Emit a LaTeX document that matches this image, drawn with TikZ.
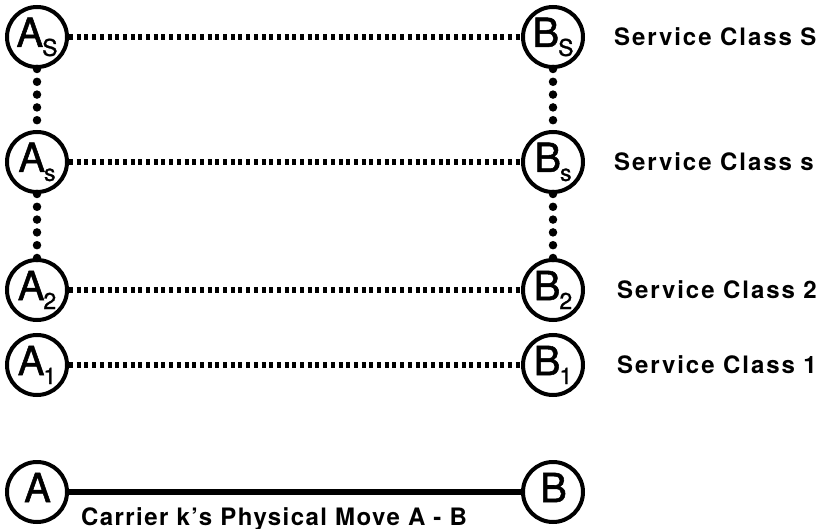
\documentclass[tikz,border=0pt]{standalone}
\usepackage{fontspec}
\setmainfont{TeX Gyre Heros}
\newfontfamily\lblfont[LetterSpace=8]{TeX Gyre Heros Bold}
\newfontfamily\capfont[LetterSpace=6]{TeX Gyre Heros Bold}
\newfontfamily\ndfont[FakeBold=1.3]{TeX Gyre Heros}
% letter with a lowered index, as set inside the station circles
\newcommand{\stn}[2]{{\ndfont\fontsize{40}{40}\selectfont #1\kern-1pt\raisebox{-9pt}{\fontsize{23}{23}\selectfont #2}}}
\begin{document}
\begin{tikzpicture}[x=1pt,y=-1pt,
  station/.style={circle, draw, line width=4pt, minimum size=60pt, inner sep=0pt, fill=white},
  hop/.style={line width=6pt, dash pattern=on 4pt off 3.7pt},
  climb/.style={line width=8.5pt, line cap=round, dash pattern=on 0pt off 12.8pt},
  move/.style={line width=5.5pt},
  classlbl/.style={anchor=west, inner sep=0pt, font=\lblfont\fontsize{24}{24}\selectfont}]
\useasboundingbox (0,0) rectangle (824,529);

\node[station] (aS) at (37,37)  {\stn{A}{S}};
\node[station] (as) at (37,162) {\stn{A}{s}};
\node[station] (a2) at (37,290) {\stn{A}{2}};
\node[station] (a1) at (37,365) {\stn{A}{1}};
\node[station] (a0) at (37,492) {\stn{A}{}};

\node[station] (bS) at (553,37)  {\stn{B}{S}};
\node[station] (bs) at (553,162) {\stn{B}{s}};
\node[station] (b2) at (553,290) {\stn{B}{2}};
\node[station] (b1) at (553,365) {\stn{B}{1}};
\node[station] (b0) at (553,492) {\stn{B}{}};

% vertical links between service classes
\draw[climb] (aS.south) -- (as.north);
\draw[climb] (as.south) -- (a2.north);
\draw[climb] (bS.south) -- (bs.north);
\draw[climb] (bs.south) -- (b2.north);

% dotted links within each service class
\draw[hop] (aS.east) -- (bS.west);
\draw[hop] (as.east) -- (bs.west);
\draw[hop] (a2.east) -- (b2.west);
\draw[hop] (a1.east) -- (b1.west);

% the physical move
\draw[move] (a0.east) -- (b0.west);

\node[classlbl] (cS) at (614,37)  {Service Class S};
\node[classlbl] (cs) at (614,162) {Service Class s};
\node[classlbl] (c2) at (617,290) {Service Class 2};
\node[classlbl] (c1) at (617,365) {Service Class 1};

\node[anchor=base, inner sep=0pt, font=\capfont\fontsize{24}{24}\selectfont] (cap) at (274,525) {Carrier k’s Physical Move A - B};
\end{tikzpicture}
\end{document}
